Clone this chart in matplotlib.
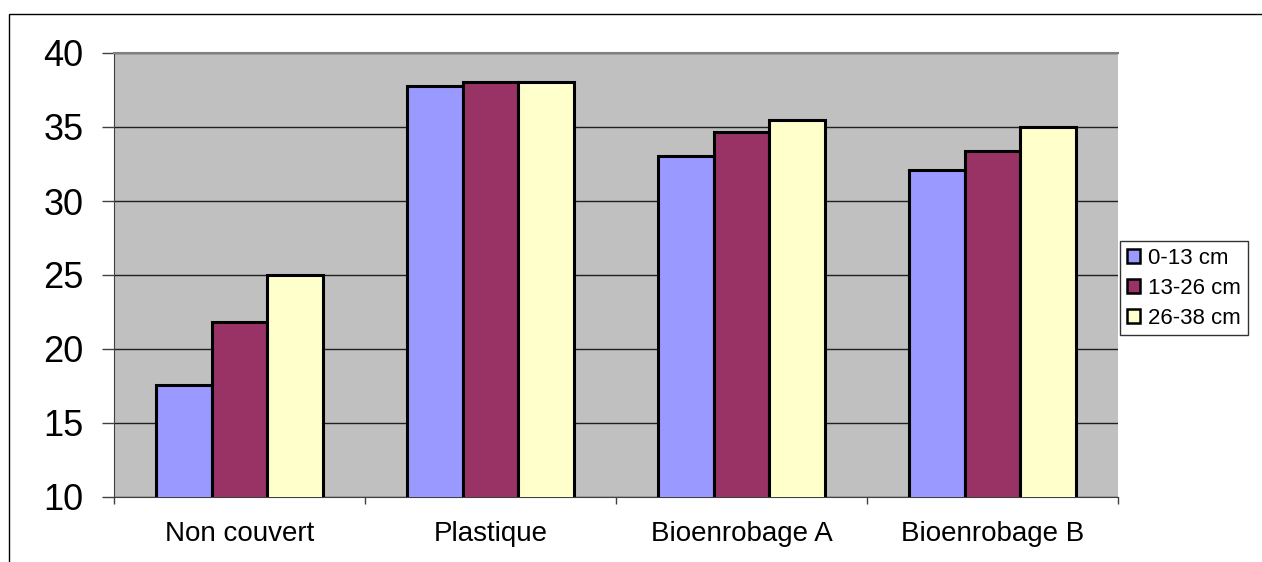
import numpy as np
import matplotlib.pyplot as plt
from matplotlib.patches import Rectangle

# catégories et séries (profondeur)
categories = ['Non couvert', 'Plastique', 'Bioenrobage A', 'Bioenrobage B']
series_labels = ['0-13 cm', '13-26 cm', '26-38 cm']
s_0_13 = [17.6, 37.75, 33.05, 32.1]
s_13_26 = [21.8, 38.05, 34.65, 33.4]
s_26_38 = [25.0, 38.05, 35.5, 35.0]
colors = ['#9999FF', '#993366', '#FFFFCC']

plt.rcParams['font.family'] = ['Liberation Sans', 'DejaVu Sans']

fig = plt.figure(figsize=(12.62, 5.62), dpi=100)
# bordure de la zone du graphique
fig.patches.append(Rectangle((9 / 1262, -0.1), 1.2, 1 - 14 / 562 + 0.1,
                             transform=fig.transFigure, fill=False,
                             edgecolor='black', linewidth=1.0))
ax = fig.add_axes([114 / 1262, 1 - 497 / 562, (1118 - 114) / 1262, 444 / 562])
ax.set_facecolor('#C0C0C0')

x = np.arange(len(categories))
w = 0.223
data = [s_0_13, s_13_26, s_26_38]
for i in range(3):
    ax.bar(x + (i - 1) * w, data[i], w, bottom=0, color=colors[i],
           edgecolor='black', linewidth=2.2, label=series_labels[i], zorder=3)

ax.set_ylim(10, 40)
ax.set_xlim(-0.5, 3.5)
ax.set_yticks([10, 15, 20, 25, 30, 35, 40])
ax.yaxis.grid(True, color='#202020', linewidth=1.0, zorder=1)
ax.set_axisbelow(True)

ax.set_xticks(x)
ax.set_xticklabels(categories, fontsize=20)
ax.set_xticks([-0.5, 0.5, 1.5, 2.5, 3.5], minor=True)
ax.tick_params(axis='x', which='major', length=0, pad=17)
ax.tick_params(axis='x', which='minor', length=5, color='#404040', width=1)
ax.tick_params(axis='y', labelsize=26, length=9, pad=13, color='#404040', width=1)

for s in ['top', 'right']:
    ax.spines[s].set_color('#808080')
    ax.spines[s].set_linewidth(1.5)
ax.spines['right'].set_visible(False)
ax.spines['left'].set_color('#404040')
ax.spines['bottom'].set_color('#404040')

leg = ax.legend(loc='center left', bbox_to_anchor=(1.0, 0.47), fontsize=16,
                frameon=True, fancybox=False, edgecolor='black',
                handlelength=0.6, handleheight=0.6, handletextpad=0.35,
                borderpad=0.3, labelspacing=0.4, borderaxespad=0.1)
leg.get_frame().set_linewidth(1.0)
for h in leg.legend_handles:
    h.set_linewidth(1.8)

fig.savefig('out.png', dpi=100)
